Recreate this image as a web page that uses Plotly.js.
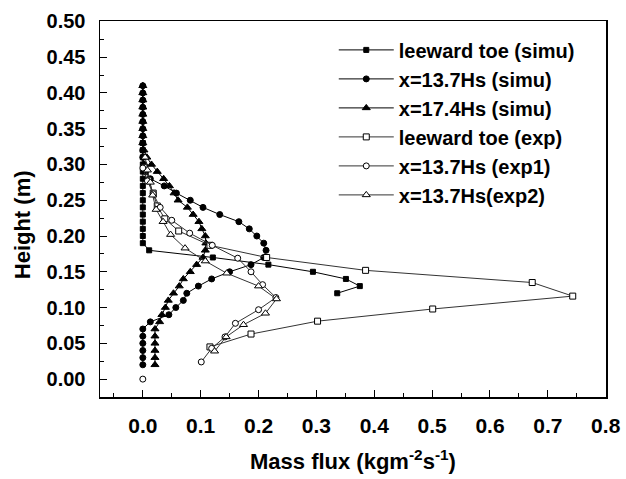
<!DOCTYPE html>
<html>
<head>
<meta charset="utf-8">
<script src="https://cdn.plot.ly/plotly-3.0.1.min.js"></script>
<style>html,body{margin:0;padding:0;background:#fff;}#chart{width:626px;height:479px;}</style>
</head>
<body>
<div id="chart"></div>
<script>
// leeward toe (simu)
const leeSimuY = [0.33,0.32,0.31,0.30,0.29,0.28,0.27,0.26,0.25,0.24,0.23,0.22,0.21,0.20,0.19,0.18,0.17,0.16,0.15,0.14,0.13,0.12];
const leeSimuX = [0,0,0,0,0,0,0,0,0,0,0,0,0,0,0,0.011,0.121,0.217,0.294,0.351,0.375,0.336];
// x=13.7Hs (simu)
const s137Y = [0.41,0.40,0.39,0.38,0.37,0.36,0.35,0.34,0.33,0.32,0.31,0.30,0.29,0.28,0.27,0.26,0.25,0.24,0.23,0.22,0.21,0.20,0.19,0.18,0.17,0.16,0.15,0.14,0.13,0.12,0.11,0.10,0.09,0.08,0.07,0.06,0.05,0.04,0.03,0.02];
const s137X = [0,0,0,0,0,0,0,0,0,0,0,0.002,0.005,0.013,0.037,0.058,0.082,0.104,0.133,0.166,0.184,0.197,0.209,0.213,0.209,0.187,0.150,0.119,0.096,0.076,0.070,0.057,0.045,0.013,0,0,0,0,0,0];
// x=17.4Hs (simu)
const s174Y = [0.41,0.40,0.39,0.38,0.37,0.36,0.35,0.34,0.33,0.32,0.31,0.30,0.29,0.28,0.27,0.26,0.25,0.24,0.23,0.22,0.21,0.20,0.19,0.18,0.17,0.16,0.15,0.14,0.13,0.12,0.11,0.10,0.09,0.08,0.07,0.06,0.05,0.04,0.03,0.02];
const s174X = [0,0,0,0,0,0,0,0,0,0.002,0.007,0.015,0.025,0.036,0.046,0.054,0.061,0.077,0.087,0.097,0.102,0.108,0.109,0.108,0.104,0.093,0.082,0.070,0.063,0.053,0.044,0.039,0.033,0.029,0.021,0.021,0.021,0.021,0.021,0.021];
// leeward toe (exp)
const leeExpY = [0.296,0.278,0.260,0.242,0.224,0.207,0.187,0.170,0.152,0.135,0.116,0.098,0.081,0.063,0.045];
const leeExpX = [0.003,0.010,0.018,0.025,0.038,0.062,0.116,0.214,0.385,0.673,0.743,0.501,0.302,0.187,0.116];
// x=13.7Hs (exp1)
const e1Y = [0.295,0.277,0.259,0.240,0.222,0.204,0.187,0.169,0.150,0.132,0.114,0.097,0.078,0.059,0.043,0.024,null,0.0];
const e1X = [0.000,0.008,0.018,0.030,0.050,0.081,0.120,0.164,0.187,0.207,0.230,0.200,0.160,0.142,0.119,0.101,null,0.0];
// x=13.7Hs(exp2)
const e2Y = [0.310,0.292,0.275,0.257,0.237,0.220,0.202,0.183,0.165,0.148,0.130,0.112,0.092,0.076,0.059,0.039];
const e2X = [0.004,0.008,0.013,0.017,0.023,0.035,0.048,0.073,0.108,0.145,0.200,0.231,0.212,0.174,0.144,0.124];

const names = ['leeward toe (simu)','x=13.7Hs (simu)','x=17.4Hs (simu)','leeward toe (exp)','x=13.7Hs (exp1)','x=13.7Hs(exp2)'];
const xTitle = 'Mass flux (kgm<sup>-2</sup>s<sup>-1</sup>)';
const yTitle = 'Height (m)';

function tr(x, y, name, symbol, size, fill) {
  return {
    x: x, y: y, name: name, type: 'scatter', mode: 'lines+markers',
    connectgaps: false,
    line: {color: fill ? '#000' : '#333', width: 1},
    marker: {symbol: symbol, size: size, color: fill ? '#000' : '#fff',
             line: {color: '#000', width: 1}}
  };
}

const data = [
  tr(leeSimuX, leeSimuY, names[0], 'square', 5, true),
  tr(s137X, s137Y, names[1], 'circle', 6, true),
  tr(s174X, s174Y, names[2], 'triangle-up', 7, true),
  tr(leeExpX, leeExpY, names[3], 'square', 6, false),
  tr(e1X, e1Y, names[4], 'circle', 6, false),
  tr(e2X, e2Y, names[5], 'triangle-up', 7, false)
];

const fontFam = 'Liberation Sans, Arial, sans-serif';
const layout = {
  width: 626, height: 479,
  margin: {l: 100, r: 20, t: 21, b: 82},
  paper_bgcolor: '#fff', plot_bgcolor: '#fff',
  showlegend: true,
  legend: {x: 0.462, y: 0.975, xanchor: 'left', yanchor: 'top', itemwidth: 55,
           font: {family: fontFam, size: 20, color: '#000', weight: 'bold'},
           bgcolor: 'rgba(0,0,0,0)', borderwidth: 0, tracegroupgap: 0},
  xaxis: {
    range: [-0.074, 0.8005], dtick: 0.1, tick0: 0, tickformat: '.1f',
    ticks: 'inside', ticklen: 7, tickwidth: 1, tickcolor: '#000',
    minor: {dtick: 0.05, tick0: 0, ticks: 'inside', ticklen: 4, tickcolor: '#000'},
    showline: true, linecolor: '#000', linewidth: 1.5, mirror: true,
    showgrid: false, zeroline: false,
    ticklabelstandoff: 9,
    tickfont: {family: fontFam, size: 21, color: '#000', weight: 'bold'}
  },
  yaxis: {
    range: [-0.025, 0.5005], dtick: 0.05, tick0: 0, tickformat: '.2f',
    ticks: 'inside', ticklen: 7, tickwidth: 1, tickcolor: '#000',
    minor: {dtick: 0.025, tick0: 0, ticks: 'inside', ticklen: 4, tickcolor: '#000'},
    showline: true, linecolor: '#000', linewidth: 1.5, mirror: true,
    showgrid: false, zeroline: false,
    ticklabelstandoff: 9,
    tickfont: {family: fontFam, size: 20, color: '#000', weight: 'bold'}
  },
  annotations: [
    {text: xTitle, xref: 'paper', yref: 'paper', x: 0.5, y: -0.168, xanchor: 'center', yanchor: 'middle',
     showarrow: false, font: {family: fontFam, size: 22, color: '#000', weight: 'bold'}},
    {text: yTitle, xref: 'paper', yref: 'paper', x: -0.154, y: 0.457, xanchor: 'center', yanchor: 'middle',
     textangle: -90, showarrow: false, font: {family: fontFam, size: 22, color: '#000', weight: 'bold'}}
  ]
};

Plotly.newPlot('chart', data, layout, {staticPlot: true, displayModeBar: false});
</script>
</body>
</html>
